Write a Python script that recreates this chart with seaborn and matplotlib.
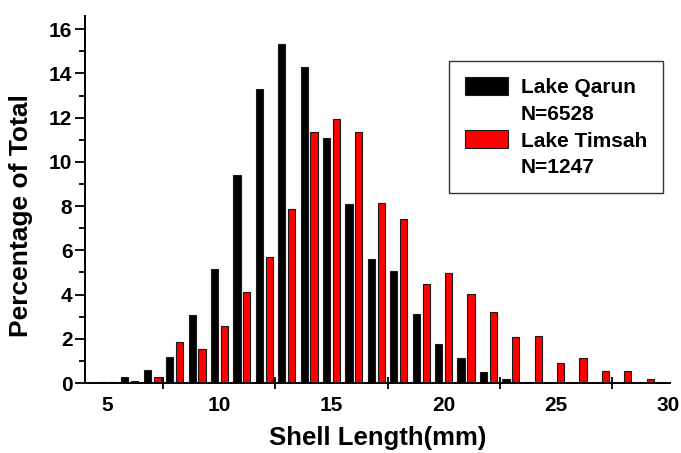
import numpy as np
import pandas as pd
import matplotlib
matplotlib.use("Agg")
import matplotlib.pyplot as plt
from matplotlib.patches import Patch
from matplotlib.ticker import MultipleLocator, FixedLocator
import seaborn as sns

# Shell length classes (mm) and percentage of total per lake
lengths = [5, 6, 7, 8, 9, 10, 11, 12, 13, 14, 15, 16, 17,
           18, 19, 20, 21, 22, 23, 24, 25, 26, 27, 28, 29]
qarun_pct = [0.03, 0.26, 0.57, 1.19, 3.06, 5.14, 9.40, 13.32, 15.35, 14.28, 11.09, 8.11, 5.63,
             5.06, 3.14, 1.76, 1.14, 0.48, 0.17, 0.06, 0.0, 0.0, 0.0, 0.0, 0.0]
timsah_pct = [0.04, 0.11, 0.25, 1.85, 1.53, 2.60, 4.10, 5.71, 7.88, 11.34, 11.92, 11.34, 8.15,
              7.44, 4.46, 4.99, 4.01, 3.21, 2.09, 2.11, 0.92, 1.13, 0.56, 0.53, 0.19]
lakes = ["Lake Qarun", "Lake Timsah"]
sample_sizes = ["N=6528", "N=1247"]
colors = ["#000000", "#ff0000"]
x_ticks = [5, 10, 15, 20, 25, 30]

df = pd.DataFrame({
    "length": lengths * 2,
    "pct": qarun_pct + timsah_pct,
    "lake": [lakes[0]] * len(lengths) + [lakes[1]] * len(lengths),
})

sns.set_style("ticks", rc={"text.color": "black", "axes.labelcolor": "black",
                           "xtick.color": "black", "ytick.color": "black",
                           "axes.edgecolor": "black"})
plt.rcParams["font.family"] = ["Liberation Sans", "DejaVu Sans"]
plt.rcParams["font.weight"] = "bold"

fig = plt.figure(figsize=(6.81, 4.53), dpi=100)
ax = fig.add_axes([0.1248, 0.1545, 0.8590, 0.8102])

sns.barplot(data=df, x="length", y="pct", hue="lake", hue_order=lakes,
            palette=colors, saturation=1, native_scale=True, dodge=True,
            width=0.88, gap=0.27, errorbar=None, edgecolor="#1a1a1a",
            linewidth=0.8, ax=ax)

ax.set_xlim(4.0, 30.1)
ax.set_ylim(0, 16.6)

# x axis: labels at multiples of 5, crossing tick marks halfway between
ax.xaxis.set_major_locator(FixedLocator(x_ticks))
ax.xaxis.set_minor_locator(FixedLocator([7.5, 12.5, 17.5, 22.5, 27.5]))
ax.tick_params(axis="x", which="major", length=0, pad=9, labelsize=15, labelcolor="black")
ax.tick_params(axis="x", which="minor", direction="inout", length=9, width=1.3, color="black")

ax.yaxis.set_major_locator(MultipleLocator(2))
ax.yaxis.set_minor_locator(MultipleLocator(1))
ax.tick_params(axis="y", which="major", direction="out", length=7, width=1.3, pad=2,
               labelsize=15, color="black", labelcolor="black")
ax.tick_params(axis="y", which="minor", direction="out", length=4, width=1.3, color="black")

for lab in ax.get_xticklabels() + ax.get_yticklabels():
    lab.set_fontweight("bold")

sns.despine(ax=ax)
for side in ("left", "bottom"):
    ax.spines[side].set_linewidth(1.4)
    ax.spines[side].set_color("black")

ax.set_xlabel("Shell Length(mm)", fontsize=18.5, fontweight="bold", labelpad=8, color="black")
ax.set_ylabel("Percentage of Total", fontsize=19, fontweight="bold", color="black")
ax.yaxis.set_label_coords(-0.089, 0.455)

# Legend: colour patch per lake, sample size on the line below
if ax.get_legend() is not None:
    ax.get_legend().remove()
blank = Patch(facecolor="none", edgecolor="none")
handles = [Patch(facecolor=colors[0], edgecolor="#1a1a1a", linewidth=0.8), blank,
           Patch(facecolor=colors[1], edgecolor="#1a1a1a", linewidth=0.8), blank]
labels = [lakes[0], sample_sizes[0], lakes[1], sample_sizes[1]]
leg = ax.legend(handles, labels, loc="upper right", bbox_to_anchor=(0.988, 0.877),
                borderaxespad=0, frameon=True, fancybox=False, edgecolor="black",
                labelcolor="black",
                prop={"family": "Liberation Sans", "weight": "bold", "size": 15},
                handlelength=2.05, handleheight=0.95, handletextpad=0.65,
                labelspacing=0.32, borderpad=0.75)
leg.get_frame().set_linewidth(1.0)

fig.savefig("out.png", dpi=100)
